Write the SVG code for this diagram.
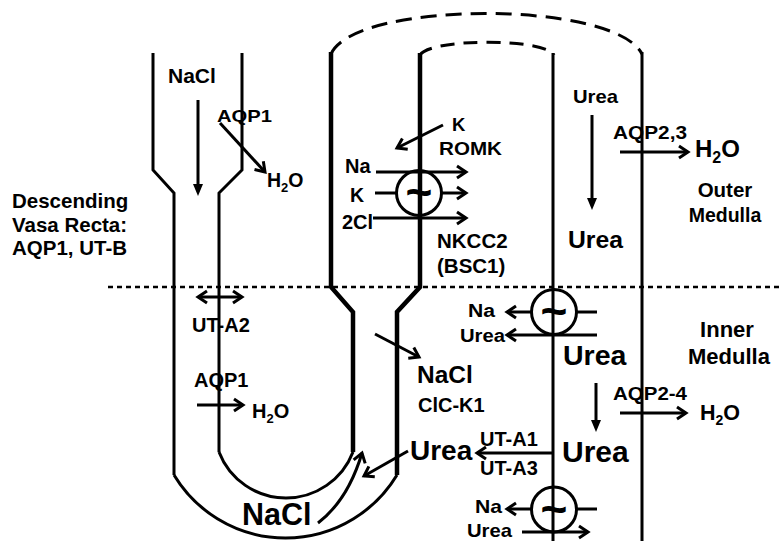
<svg xmlns="http://www.w3.org/2000/svg" width="781" height="541" viewBox="0 0 781 541">
<defs>
<style>
.s{fill:none;stroke:#000;stroke-width:3}
.k{fill:none;stroke:#000;stroke-width:4.5}
.ds{fill:none;stroke:#000;stroke-width:3;stroke-dasharray:16 9}
.ds2{fill:none;stroke:#000;stroke-width:3;stroke-dasharray:14 9}
.dot{fill:none;stroke:#000;stroke-width:2.5;stroke-dasharray:5 4}
.a{fill:none;stroke:#000;stroke-width:3;marker-end:url(#ah)}
.a2{fill:none;stroke:#000;stroke-width:3;marker-end:url(#ah);marker-start:url(#ah)}
.f{fill:none;stroke:#000;stroke-width:3;marker-end:url(#fh)}
.l{fill:none;stroke:#000;stroke-width:3}
text{font-family:"Liberation Sans",Arial,Helvetica,sans-serif;font-weight:bold;fill:#000}
.m{text-anchor:middle}
</style>
<marker id="ah" viewBox="0 0 14 16" refX="11" refY="8" markerWidth="14" markerHeight="16" markerUnits="userSpaceOnUse" orient="auto-start-reverse">
<path d="M2,2 L11,8 L2,14" fill="none" stroke="#000" stroke-width="3"/>
</marker>
<marker id="fh" viewBox="0 0 12 10" refX="4" refY="5" markerWidth="12" markerHeight="10" markerUnits="userSpaceOnUse" orient="auto">
<path d="M0,0 L12,5 L0,10 Z" fill="#000"/>
</marker>
</defs>
<rect width="781" height="541" fill="#fff"/>

<g id="vasa-recta">
<path class="s" d="M153,53 V170 L174,193 V475"/>
<path class="s" d="M242,53 V170 L219,193 V452"/>
</g>

<g id="loop-of-henle">
<path class="k" d="M331,52 V287 L353,312 V452"/>
<path class="k" d="M420,53 V287 L397,312 V475"/>
<path class="s" d="M219,452 A71.8,71.8 0 0 0 353,452"/>
<path class="s" d="M174,475 A130.2,130.2 0 0 0 397,475"/>
<path class="ds" d="M331,54 C355,0 615,0 642,54"/>
<path class="ds2" d="M420,55 C430,38 545,38 554,55"/>
</g>

<g id="collecting-duct">
<path class="s" d="M553,53 V541"/>
<path class="s" d="M642,52 V541"/>
</g>

<g id="boundary">
<path class="dot" d="M108,287 H781"/>
</g>

<g id="nkcc2">
<circle class="s" cx="419" cy="193" r="22.5"/>
<text class="m" x="419" y="208" font-size="46">~</text>
</g>

<g id="transporter-upper">
<circle class="s" cx="554" cy="312" r="22.5"/>
<text class="m" x="554" y="327" font-size="46">~</text>
</g>

<g id="transporter-lower">
<circle class="s" cx="554" cy="509.5" r="22.5"/>
<text class="m" x="554" y="524.5" font-size="46">~</text>
</g>

<g id="connectors">
<path class="f" d="M198,100 V188"/>
<path class="a" d="M220,123 L265,172"/>
<path class="f" d="M592,115 V202"/>
<path class="a" d="M443,125 L397,148"/>
<path class="a" d="M376,172 H466"/>
<path class="l" d="M375,193 H397"/>
<path class="a" d="M442,193 H466"/>
<path class="a" d="M373,218 H466"/>
<path class="a" d="M620,152 H688"/>
<path class="a2" d="M198,297 H242"/>
<path class="a" d="M197,405 H243"/>
<path class="a" d="M532,312 H507"/>
<path class="l" d="M577,312 H597"/>
<path class="a" d="M597,335 H507"/>
<path class="a" d="M375,334 L419,357"/>
<path class="f" d="M596,383 V424"/>
<path class="a" d="M620,413 H686"/>
<path class="a" d="M552,453 H477"/>
<path class="a" d="M408,451 L364,476"/>
<path class="a" d="M318,523 Q348,500 362,453"/>
<path class="a" d="M532,509 H507"/>
<path class="l" d="M577,509 H597"/>
<path class="a" d="M522,532 H588"/>
</g>

<g id="labels">
<text x="168" y="83" font-size="21">NaCl</text>
<text x="217" y="122" font-size="17" textLength="55" lengthAdjust="spacingAndGlyphs">AQP1</text>
<text x="267" y="187" font-size="19.5">H<tspan font-size="13" dy="5">2</tspan><tspan dy="-5">O</tspan></text>
<text x="12" y="208" font-size="20.5">Descending</text>
<text x="12" y="232" font-size="20.5">Vasa Recta:</text>
<text x="12" y="255" font-size="20.5">AQP1, UT-B</text>
<text x="573" y="103" font-size="18.5" textLength="45" lengthAdjust="spacingAndGlyphs">Urea</text>
<text x="452" y="131" font-size="18.5">K</text>
<text x="439" y="155" font-size="18.5" textLength="63" lengthAdjust="spacingAndGlyphs">ROMK</text>
<text x="345" y="173" font-size="20">Na</text>
<text x="350" y="202" font-size="19.5">K</text>
<text x="342" y="229" font-size="20">2Cl</text>
<text x="437" y="248" font-size="20.5">NKCC2</text>
<text x="437" y="273" font-size="20.5">(BSC1)</text>
<text x="613" y="139" font-size="17.5" textLength="74" lengthAdjust="spacingAndGlyphs">AQP2,3</text>
<text x="695" y="157" font-size="24">H<tspan font-size="16" dy="6">2</tspan><tspan dy="-6">O</tspan></text>
<text class="m" x="725" y="197" font-size="20.5">Outer</text>
<text class="m" x="725" y="222" font-size="19.5">Medulla</text>
<text x="568" y="248" font-size="23" textLength="55" lengthAdjust="spacingAndGlyphs">Urea</text>
<text x="192" y="332" font-size="20">UT-A2</text>
<text x="194" y="387" font-size="20">AQP1</text>
<text x="252" y="418" font-size="20">H<tspan font-size="13" dy="5">2</tspan><tspan dy="-5">O</tspan></text>
<text x="242" y="525" font-size="30.5">NaCl</text>
<text x="468" y="317" font-size="18" textLength="27" lengthAdjust="spacingAndGlyphs">Na</text>
<text x="460" y="342" font-size="18" textLength="45" lengthAdjust="spacingAndGlyphs">Urea</text>
<text x="563" y="365" font-size="28.5">Urea</text>
<text class="m" x="727" y="337" font-size="22">Inner</text>
<text class="m" x="729" y="364" font-size="22">Medulla</text>
<text x="417" y="383" font-size="24.5">NaCl</text>
<text x="418" y="412" font-size="20">ClC-K1</text>
<text x="613" y="400" font-size="18" textLength="74" lengthAdjust="spacingAndGlyphs">AQP2-4</text>
<text x="700" y="420" font-size="21.5">H<tspan font-size="14" dy="5">2</tspan><tspan dy="-5">O</tspan></text>
<text x="480" y="446" font-size="20">UT-A1</text>
<text x="410" y="460" font-size="28">Urea</text>
<text x="562" y="462" font-size="30">Urea</text>
<text x="480" y="475" font-size="20">UT-A3</text>
<text x="475" y="513" font-size="18.5" textLength="27" lengthAdjust="spacingAndGlyphs">Na</text>
<text x="467" y="537" font-size="18.5" textLength="45" lengthAdjust="spacingAndGlyphs">Urea</text>
</g>
</svg>
